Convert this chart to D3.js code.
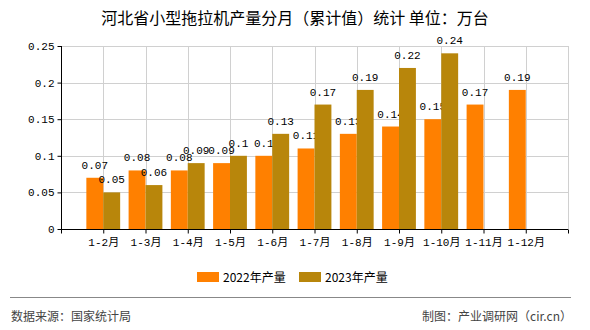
<!DOCTYPE html>
<html><head><meta charset="utf-8">
<script src="https://cdn.jsdelivr.net/npm/d3@7"></script>
<style>
html,body{margin:0;padding:0;background:#fff;}
svg{display:block;}
</style></head>
<body>
<script>
const categories = ["1-2月","1-3月","1-4月","1-5月","1-6月","1-7月","1-8月","1-9月","1-10月","1-11月","1-12月"];
const values2022 = [0.07,0.08,0.08,0.09,0.1,0.11,0.13,0.14,0.15,0.17,0.19];
const values2023 = [0.05,0.06,0.09,0.1,0.13,0.17,0.19,0.22,0.24,null,null];
const seriesNames = ["2022年产量","2023年产量"];
const yTicks = [0,0.05,0.1,0.15,0.2,0.25];
const yTickLabels = ["0","0.05","0.1","0.15","0.2","0.25"];
const titleText = "河北省小型拖拉机产量分月（累计值）统计 单位：万台";
const sourceText = "数据来源：国家统计局";
const makerText = "制图：产业调研网（cir.cn）";

(function(){
const W = 590, H = 330;
const colors = ["#FF8000", "#B8860B"];
const numFont = "'Liberation Mono', 'Noto Sans CJK SC', monospace";
const cjkFont = "'Noto Sans CJK SC', sans-serif";

const svg = d3.select("body").append("svg").attr("width", W).attr("height", H);

const pLeft = 61, pRight = 568, pTop = 46, pBottom = 229;
const x = d3.scalePoint().domain(categories).range([pLeft, pRight]).padding(1);
const y = d3.scaleLinear().domain([0, 0.25]).range([pBottom, pTop]);
const bw = x.step() * 0.4;

// grid
const grid = svg.append("g");
grid.selectAll("line.h").data(yTicks.slice(1)).join("line")
  .attr("x1", pLeft).attr("x2", pRight)
  .attr("y1", d => Math.round(y(d)) + 0.5).attr("y2", d => Math.round(y(d)) + 0.5)
  .attr("stroke", "#d0d0d0").attr("stroke-width", 1);
grid.selectAll("line.v").data(categories).join("line")
  .attr("x1", d => Math.round(x(d)) + 0.5).attr("x2", d => Math.round(x(d)) + 0.5)
  .attr("y1", pTop).attr("y2", pBottom)
  .attr("stroke", "#d0d0d0").attr("stroke-width", 1);
grid.append("line").attr("x1", pRight + 0.5).attr("x2", pRight + 0.5).attr("y1", pTop).attr("y2", pBottom)
  .attr("stroke", "#d0d0d0");

// bars
const series = [values2022, values2023];
series.forEach((vals, si) => {
  const data = categories.map((c, i) => ({c, v: vals[i]})).filter(d => d.v != null);
  const g = svg.append("g");
  g.selectAll("rect").data(data).join("rect")
    .attr("x", d => x(d.c) + (si === 0 ? -bw : 0))
    .attr("y", d => y(d.v))
    .attr("width", bw)
    .attr("height", d => y(0) - y(d.v))
    .attr("fill", colors[si]);
  g.selectAll("text").data(data).join("text")
    .attr("x", d => x(d.c) + (si === 0 ? -bw / 2 : bw / 2))
    .attr("y", d => y(d.v) - 9)
    .attr("text-anchor", "middle")
    .attr("font-family", numFont).attr("font-size", 11)
    .attr("fill", "#000")
    .text(d => String(d.v));
});

// axes
const xAxis = d3.axisBottom(x).tickSize(4).tickFormat(d => d);
const gx = svg.append("g").attr("transform", `translate(0,${pBottom + 0.5})`).call(xAxis);
gx.select(".domain").attr("d", `M${pLeft},0H${pRight}`).attr("stroke", "#000");
gx.selectAll("text").attr("font-family", numFont).attr("font-size", 11).attr("fill", "#000").attr("dy", "0.9em");
gx.append("g").selectAll("line").data([pLeft, pRight]).join("line")
  .attr("x1", d => d + 0.5).attr("x2", d => d + 0.5).attr("y1", 0).attr("y2", 4).attr("stroke", "#000");

const yAxis = d3.axisLeft(y).tickValues(yTicks).tickSize(4).tickFormat((d, i) => yTickLabels[i]);
const gy = svg.append("g").attr("transform", `translate(${pLeft + 0.5},0)`).call(yAxis);
gy.select(".domain").attr("d", `M0,${pTop}V${pBottom}`).attr("stroke", "#000");
gy.selectAll("text").attr("font-family", numFont).attr("font-size", 11).attr("fill", "#000");

// title
svg.append("text").attr("x", W / 2).attr("y", 24).attr("text-anchor", "middle")
  .attr("font-family", cjkFont).attr("font-size", 16).attr("font-weight", "normal")
  .attr("fill", "#000").text(titleText);

// legend
const legX = [197, 299];
seriesNames.forEach((n, i) => {
  svg.append("rect").attr("x", legX[i]).attr("y", 272).attr("width", 22).attr("height", 10).attr("fill", colors[i]);
  svg.append("text").attr("x", legX[i] + 26).attr("y", 282)
    .attr("font-family", cjkFont).attr("font-size", 12).attr("fill", "#000").text(n);
});

// footer
svg.append("line").attr("x1", 10).attr("x2", 571).attr("y1", 297.5).attr("y2", 297.5).attr("stroke", "#888").attr("stroke-width", 1);
svg.append("text").attr("x", 11).attr("y", 321).attr("font-family", cjkFont).attr("font-size", 12)
  .attr("fill", "#444").text(sourceText);
svg.append("text").attr("x", 572).attr("y", 321).attr("text-anchor", "end").attr("font-family", cjkFont).attr("font-size", 12)
  .attr("fill", "#444").text(makerText);
})();
</script>
</body></html>
